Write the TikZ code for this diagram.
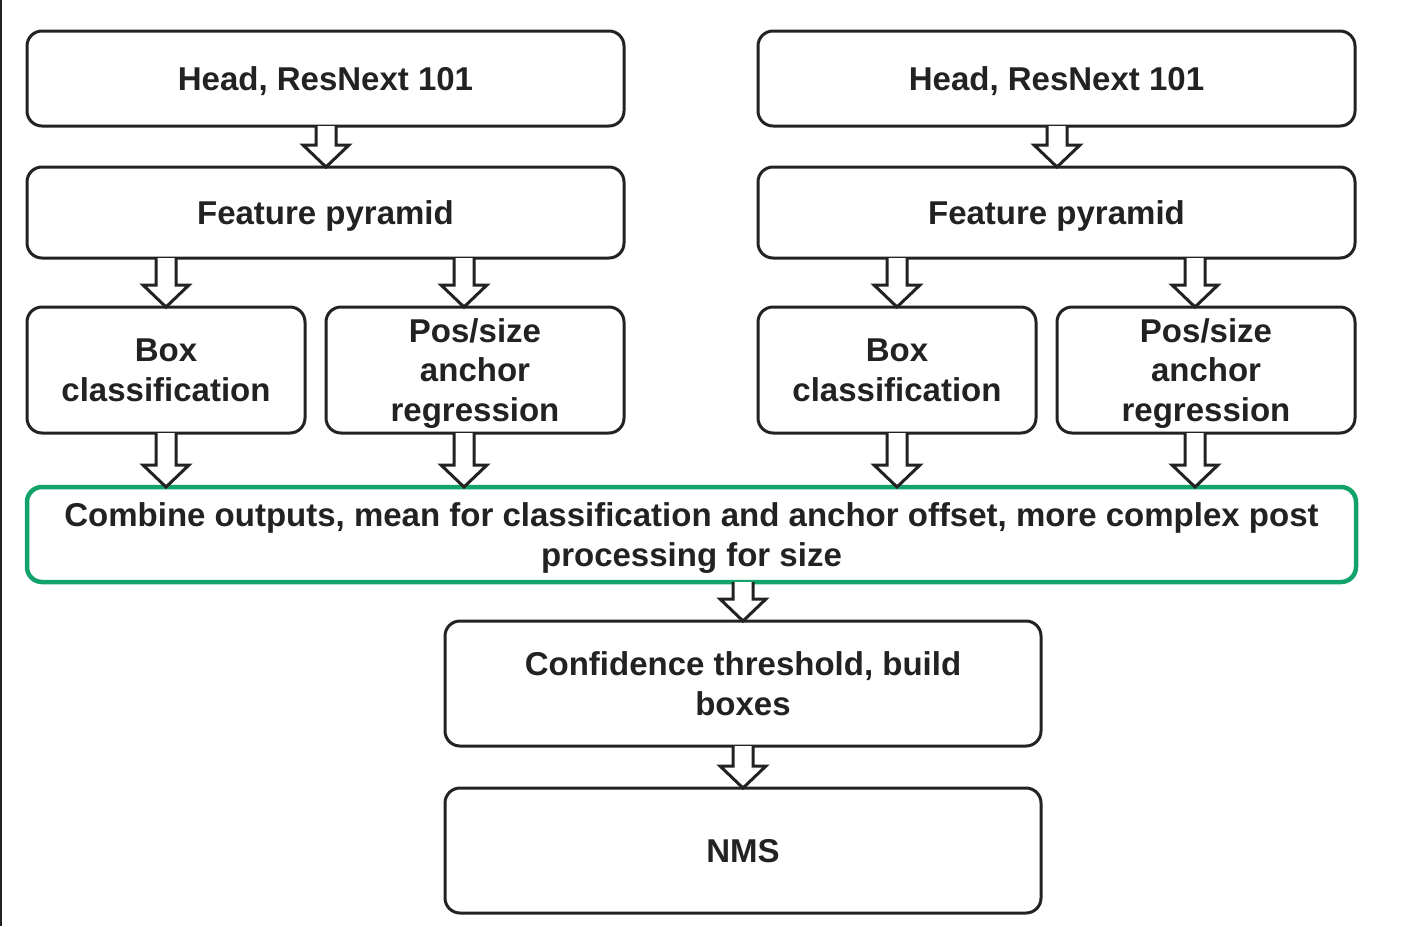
\documentclass[tikz,border=0pt]{standalone}
\usepackage{fontspec}
\setmainfont{Liberation Sans}
\usetikzlibrary{calc}
\definecolor{ink}{RGB}{34,34,34}
\definecolor{grn}{RGB}{18,163,106}
% #1: point giving x, #2: upper node point, #3: lower node point
\newcommand\blockarr[3]{%
  \draw[arrowstyle] let \p3=#1, \p1=#2, \p2=#3 in
    (\x3-10pt,\y1) -- (\x3-10pt,\y2+22pt) -- (\x3-23pt,\y2+22pt) -- (\x3,\y2)
    -- (\x3+23pt,\y2+22pt) -- (\x3+10pt,\y2+22pt) -- (\x3+10pt,\y1);}
\begin{document}
\begin{tikzpicture}[x=1pt,y=-1pt,
  box/.style={draw=ink, line width=3pt, rounded corners=15pt, fill=white,
    outer sep=0pt, inner sep=0pt, align=center, text=ink, text depth=0pt,
    font=\fontsize{33}{39.5}\selectfont\bfseries},
  greenbox/.style={box, draw=grn, line width=4.5pt},
  arrowstyle/.style={draw=ink, line width=3pt, fill=white, line join=miter}]
\useasboundingbox (0,0) rectangle (1413,926);
\draw[line width=2pt, draw=ink] (1,0) -- (1,926);
% left column
\node[box, minimum width=597pt, minimum height=95pt] (hl) at (325.5,78.5) {Head, ResNext 101};
\node[box, minimum width=597pt, minimum height=91pt] (fl) at (325.5,212.5) {Feature pyramid};
\node[box, minimum width=278pt, minimum height=126pt] (bl) at (166,370) {Box\\classification};
\node[box, minimum width=298pt, minimum height=126pt] (pl) at (475,370) {Pos/size\\anchor\\regression};
% right column
\node[box, minimum width=597pt, minimum height=95pt] (hr) at (1056.5,78.5) {Head, ResNext 101};
\node[box, minimum width=597pt, minimum height=91pt] (fr) at (1056.5,212.5) {Feature pyramid};
\node[box, minimum width=278pt, minimum height=126pt] (br) at (897,370) {Box\\classification};
\node[box, minimum width=298pt, minimum height=126pt] (pr) at (1206,370) {Pos/size\\anchor\\regression};
% combine
\node[greenbox, minimum width=1329pt, minimum height=95pt] (cb) at (691.5,534.5)
  {Combine outputs, mean for classification and anchor offset, more complex post\\processing for size};
\node[box, minimum width=596pt, minimum height=125pt] (ct) at (743,683.5) {Confidence threshold, build\\boxes};
\node[box, minimum width=596pt, minimum height=125pt] (nms) at (743,850.5) {NMS};
% arrows
\blockarr{([xshift=0.5pt]hl.south)}{(hl.south)}{(fl.north)}
\blockarr{([xshift=0.5pt]hr.south)}{(hr.south)}{(fr.north)}
\blockarr{(bl.north)}{(fl.south)}{(bl.north)}
\blockarr{([xshift=-11pt]pl.north)}{(fl.south)}{(pl.north)}
\blockarr{(br.north)}{(fr.south)}{(br.north)}
\blockarr{([xshift=-11pt]pr.north)}{(fr.south)}{(pr.north)}
\blockarr{(bl.south)}{(bl.south)}{(cb.north)}
\blockarr{([xshift=-11pt]pl.south)}{(pl.south)}{(cb.north)}
\blockarr{(br.south)}{(br.south)}{(cb.north)}
\blockarr{([xshift=-11pt]pr.south)}{(pr.south)}{(cb.north)}
\blockarr{(ct.north)}{(cb.south)}{(ct.north)}
\blockarr{(ct.south)}{(ct.south)}{(nms.north)}
\end{tikzpicture}
\end{document}
